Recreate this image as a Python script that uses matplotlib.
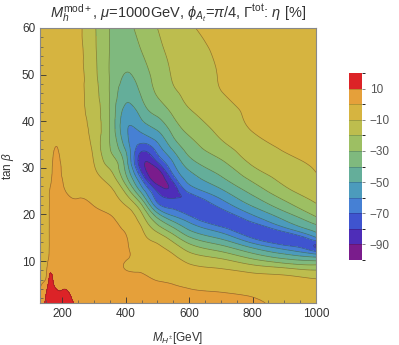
import numpy as np
import matplotlib
matplotlib.use("Agg")
import matplotlib.pyplot as plt
from matplotlib.colors import ListedColormap, BoundaryNorm
from matplotlib.tri import Triangulation, UniformTriRefiner, CubicTriInterpolator

plt.rcParams["font.family"] = ["Liberation Sans", "DejaVu Sans"]
plt.rcParams["mathtext.fontset"] = "custom"
plt.rcParams["mathtext.rm"] = "Liberation Sans"
plt.rcParams["mathtext.it"] = "Liberation Sans:italic"

# eta [%], one list per M_H+ column, rows follow tanb
mhp = [130, 150, 160, 170, 200, 250, 300, 350, 400, 450, 500, 550, 600, 700, 800, 900, 1000]
tanb = [1, 3, 5, 7, 9, 11, 13, 15, 17, 19, 21, 23, 25, 28, 31, 34, 38, 42, 46, 50, 55, 60]

eta_130 = [1.5, 0.5, -1, -3, -4, -4.5, -5, -5, -5.5, -5.5, -5.5, -6, -6, -6, -6, -6, -6, -6, -6, -6, -6, -6]
eta_150 = [12, 10.3, 6, 0, -2, -3, -3.5, -4, -4, -4, -4.5, -5, -5.5, -6.5, -7.5, -8, -8, -8, -8, -8, -8, -8]
eta_160 = [14, 14, 12.5, 10.2, 4, 1, 0.5, 0.5, 0.5, 0.5, 0.5, 0.3, 0, -4, -7, -8.5, -9, -9, -8.8, -8.5, -8.5, -8.5]
eta_170 = [14.5, 13.5, 11.5, 9, 6, 5, 5, 5, 5, 5, 5, 4.5, 3.5, 2, 0.5, -2.5, -5.5, -6.5, -7, -7, -7, -7]
eta_200 = [13.5, 11.2, 8.5, 6.5, 5.5, 5, 5, 5, 5, 5, 5, 4, 2.5, -0.5, -3, -5, -6.2, -6.5, -6.7, -6.8, -7, -7]
eta_250 = [8, 6.5, 6, 5.5, 5, 5, 5, 5, 5, 4.5, 2, 0.5, -2, -4, -5.5, -6.5, -7, -7.3, -7.5, -7.7, -8, -8]
eta_300 = [5, 5, 5, 5, 5, 5, 5, 4.5, 4, 3, 1, -1.5, -3.5, -6.5, -10, -12.4, -14, -15.5, -16.5, -17.3, -18, -18.5]
eta_350 = [5, 5, 4.5, 4, 4, 3.5, 3, 2.5, 2, 1, -1.5, -5, -8, -15, -23.5, -29.5, -30.5, -30.5, -30.5, -30.5, -30.3, -30.3]
eta_400 = [5, 4, 3, 1.5, -0.5, 1, 1, 0.5, -1, -3.5, -7, -14, -22.5, -37.5, -44.5, -51, -58, -53.5, -46, -40.5, -36, -33]
eta_450 = [5, 3.5, 2, 0.5, -1.7, -3.5, -5.5, -7.5, -9.5, -15, -23, -37, -53, -73, -86.5, -77, -58, -46, -38.7, -34.8, -30, -26.5]
eta_500 = [5, 3.5, 1, -1.5, -3.9, -6.3, -8.7, -14, -25, -38, -57, -72.5, -81, -96, -82, -66, -50, -37, -29, -26.4, -23, -20]
eta_550 = [5, 2, 0, -2.9, -5.9, -8.8, -15.1, -25.3, -38.6, -54.2, -69.3, -77.6, -86, -73.3, -60.4, -48.7, -36.7, -27.9, -21.6, -19, -17, -15]
eta_600 = [4, 1.5, -1.5, -5.2, -8.9, -15.8, -25.6, -38.6, -52.1, -65, -76, -78, -67.7, -54.8, -44.4, -36.3, -27.8, -20.9, -18.2, -16.2, -13.8, -11]
eta_700 = [3, 0.5, -3.2, -7, -12.1, -23, -36.8, -52, -67.1, -77.5, -71.7, -61.6, -52.1, -40.7, -32.3, -24.1, -17.7, -14.1, -10.5, -9.2, -8.2, -7.3]
eta_800 = [1.5, -1.1, -4.8, -8.5, -18.6, -34.5, -51.8, -71, -76.4, -65.6, -53.9, -44.3, -36.7, -26.7, -18.7, -14.7, -9.7, -8.3, -7.4, -6.8, -6.2, -5.7]
eta_900 = [-1.5, -2.5, -5.5, -10, -24.4, -45, -65.6, -79, -62.3, -48.9, -38.3, -30, -22.9, -16.9, -12.6, -9.5, -8.2, -7.3, -6.6, -6.1, -5.6, -5.2]
eta_1000 = [-0.5, -2, -6, -13.9, -28, -52.2, -81.5, -61, -45, -32.8, -24, -18.5, -15.4, -10.8, -9, -8, -7.2, -6.6, -6.1, -5.7, -5.3, -5]

levels = list(range(-100, 30, 10))
band_colors = ["#7a1c8c", "#4e2db8", "#3f54cf", "#4680d4", "#4c9bbc", "#64ae9a",
               "#7fb97e", "#9dbf63", "#bdbd4e", "#d6b440", "#e5a03a", "#dc2327"]
cbar_ticks = [10, -10, -30, -50, -70, -90]

columns = [eta_130, eta_150, eta_160, eta_170, eta_200, eta_250, eta_300, eta_350,
           eta_400, eta_450, eta_500, eta_550, eta_600, eta_700, eta_800, eta_900, eta_1000]
Z = np.column_stack(columns)
X, Y = np.meshgrid(mhp, tanb)
ny, nx = Z.shape

# split each grid cell along the upper-left/lower-right diagonal (direction of the valley)
cells = []
for j in range(ny - 1):
    for i in range(nx - 1):
        a = j * nx + i
        cells.append([a, a + 1, a + nx])
        cells.append([a + 1, a + nx + 1, a + nx])

# smooth the read-off grid with matplotlib's cubic tri interpolation
xspan = mhp[-1] - mhp[0]
yspan = tanb[-1] - tanb[0]
tri_n = Triangulation((X.ravel() - mhp[0]) / xspan, (Y.ravel() - tanb[0]) / yspan, cells)
interp = CubicTriInterpolator(tri_n, Z.ravel(), kind="min_E")
tri_r, z_r = UniformTriRefiner(tri_n).refine_field(Z.ravel(), triinterpolator=interp, subdiv=4)
tri = Triangulation(tri_r.x * xspan + mhp[0], tri_r.y * yspan + tanb[0], tri_r.triangles)

cmap = ListedColormap(band_colors)
norm = BoundaryNorm(levels, cmap.N)

fig = plt.figure(figsize=(3.99, 3.45), dpi=100)
ax = fig.add_axes([40 / 399, 1 - 303 / 345, 276 / 399, 275 / 345])
cf = ax.tricontourf(tri, z_r, levels=levels, cmap=cmap, norm=norm)
ax.tricontour(tri, z_r, levels=levels[1:-1], colors="#303020", linewidths=0.5,
              alpha=0.45, linestyles="solid")

ax.set_xlim(130, 1000)
ax.set_ylim(1, 60)
ax.set_xticks([200, 400, 600, 800, 1000])
ax.set_xticks(np.arange(150, 1001, 50), minor=True)
ax.set_yticks([10, 20, 30, 40, 50, 60])
ax.set_yticks(np.arange(2, 61, 2), minor=True)
ax.tick_params(direction="in", labelsize=8.5, colors="#333333", length=4, width=0.6)
ax.tick_params(which="minor", direction="in", length=2, width=0.5, colors="#555555")
for s in ax.spines.values():
    s.set_color("#888888")
    s.set_linewidth(0.8)

ax.set_xlabel(r"$M_{H^{\pm}}$[GeV]", fontsize=8.5, color="#333333", labelpad=7)
ax.set_ylabel(r"tan $\beta$", fontsize=8.5, color="#333333", labelpad=4)
fig.text(0.445, 0.962, r"$M_h^{\mathrm{mod+}}$, $\mu$=1000GeV, $\phi_{A_t}$=$\pi$/4, $\Gamma^{\mathrm{tot}}$: $\eta$ [%]",
         ha="center", va="center", fontsize=10.5, color="#333333")

cax = fig.add_axes([349 / 399, 1 - 260 / 345, 13 / 399, 187 / 345])
cb = fig.colorbar(cf, cax=cax, ticks=cbar_ticks)
cb.outline.set_visible(False)
cb.ax.tick_params(labelsize=8.5, colors="#555555", length=2, width=0.5)
for lv in levels[1:-1]:
    cb.ax.axhline(lv, color="k", lw=0.4, alpha=0.3)

fig.savefig("out.png", dpi=100)
